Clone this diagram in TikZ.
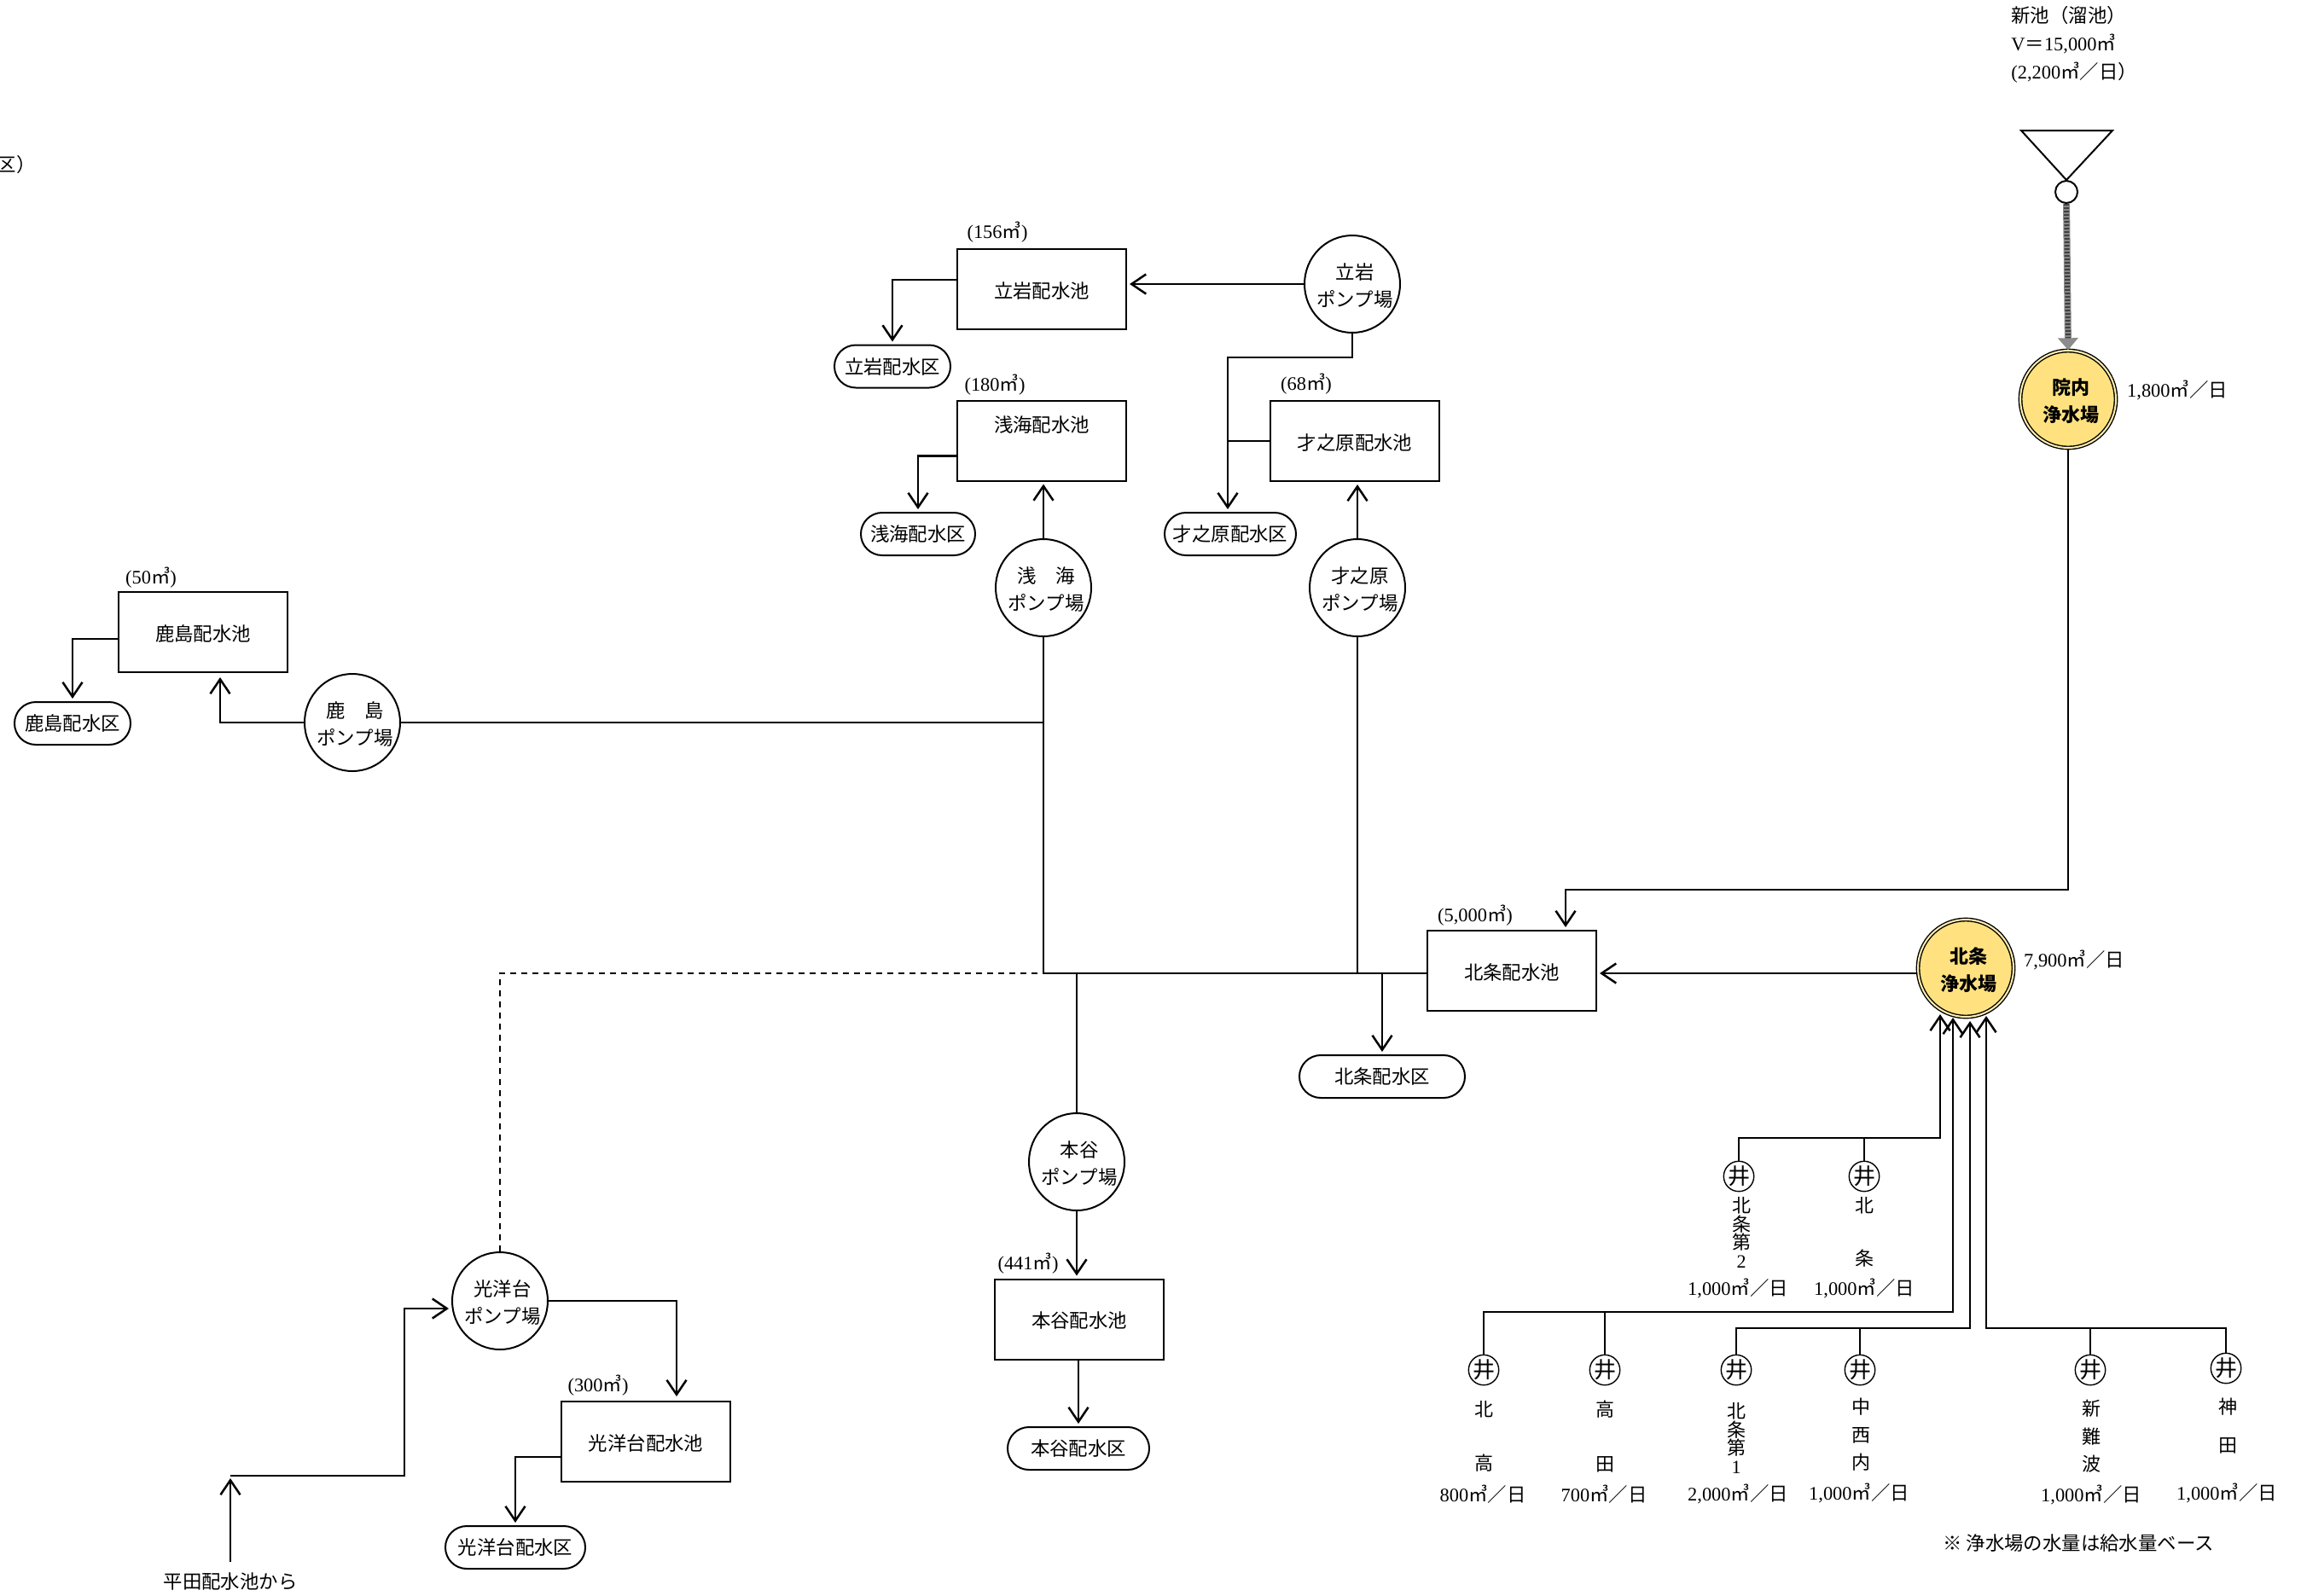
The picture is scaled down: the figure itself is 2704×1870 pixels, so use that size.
\documentclass[tikz,border=0pt]{standalone}
\usepackage{fontspec}
\setmainfont{Noto Sans CJK JP}
\newfontfamily\numfont{Liberation Serif}
\usetikzlibrary{arrows.meta,shapes.geometric,shapes.misc}
\definecolor{plantyellow}{HTML}{FFE27F}
\newcommand{\zw}[1]{\makebox[0pt]{\hspace{3pt}\smash{\raisebox{-5pt}{#1}}}}
\newcommand{\vol}[1]{{\numfont(#1}㎥{\numfont)}}
\newcommand{\rate}[1]{{\numfont #1}㎥／日}
\lineskiplimit-20pt

\begin{document}
\begin{tikzpicture}[x=0.5pt, y=-0.5pt,
  font=\fontsize{11.2}{16}\selectfont,
  pipe/.style={line width=1pt},
  flow/.style={line width=1.25pt, shorten >=1.5pt, -{Straight Barb[length=8.5pt,width=11.5pt,line width=1.25pt]}},
  pool/.style={draw, line width=1pt, rectangle, minimum width=99pt, minimum height=47pt, inner sep=0pt, text height=11.5pt, text depth=1.5pt},
  district/.style={draw, line width=1pt, rounded rectangle, minimum width=#1, minimum height=25pt, inner sep=0pt},
  pump/.style={draw, line width=1pt, ellipse, minimum width=56pt, minimum height=57pt, inner sep=0pt, align=center},
  plant/.style={draw, line width=0.7pt, double=plantyellow!60, double distance=1pt, fill=plantyellow, ellipse, minimum width=56pt, minimum height=57pt, inner sep=0pt, align=center, font=\fontsize{11}{16}\selectfont\bfseries},
  well/.style={draw, line width=0.7pt, circle, minimum size=16pt, inner sep=0pt, font=\fontsize{13}{13}\selectfont},
  note/.style={inner sep=0pt},
  wellname/.style={inner sep=0pt, align=center, font=\fontsize{11}{#1}\selectfont}]
\useasboundingbox (0,0) rectangle (2704,1870);

% pond and Innai
\draw[line width=1pt] (2369,153) -- (2476,153) -- (2422,211) -- cycle;
\node (pondValve)[draw, line width=1pt, circle, minimum size=13pt, inner sep=0pt] at (2422,225) {};
\node (pondName)[note, anchor=west] at (2357,18) {新池（溜池）};
\node (pondVol)[note, anchor=west] at (2357,51) {{\numfont V}＝{\numfont 15,000}㎥};
\node (pondRate)[note, anchor=west] at (2357,85) {{\numfont (2,200}㎥／日）};
\node (innaiPlant)[plant] at (2424,468) {\zw{院内}\\\zw{浄水場}};
\node (innaiRate)[note] at (2552,457) {\rate{1,800}};
\node (hojoPlant)[plant] at (2304,1135) {\zw{北条}\\\zw{浄水場}};
\node (hojoRate)[note] at (2431,1125) {\rate{7,900}};
\draw[line width=4pt, black!45, -{Triangle[length=7pt,width=11.5pt]}] (pondValve.south) -- (innaiPlant.north);
\draw[line width=3pt, black!75, dash pattern=on 1pt off 1pt, shorten >=7pt] (pondValve.south) -- (innaiPlant.north);

\node (cutLabel)[note, anchor=east] at (42,193) {区）};

% pools
\node (kashimaPool)[pool] at (238,741) {鹿島配水池};
\node (tatsuPool)[pool] at (1221,339) {立岩配水池};
\node (asamiPool)[pool] at (1221,516.5) {\smash{\raisebox{10.25pt}{浅海配水池}}};
\node (saiharaPool)[pool] at (1588,517) {才之原配水池};
\node (hojoPool)[pool] at (1772,1138) {北条配水池};
\node (honyaPool)[pool] at (1265,1546.5) {本谷配水池};
\node (koyoPool)[pool] at (757,1690) {光洋台配水池};
\node (kashimaVol)[note] at (177,677) {\vol{50}};
\node (tatsuVol)[note] at (1169,272) {\vol{156}};
\node (asamiVol)[note] at (1166,451) {\vol{180}};
\node (saiharaVol)[note] at (1531,450) {\vol{68}};
\node (hojoVol)[note] at (1729,1073) {\vol{5,000}};
\node (honyaVol)[note] at (1205,1481) {\vol{441}};
\node (koyoVol)[note] at (701,1624) {\vol{300}};

% districts
\node (kashimaArea)[district=68pt] at (85,848) {鹿島配水区};
\node (tatsuArea)[district=68pt] at (1046,429.5) {立岩配水区};
\node (asamiArea)[district=67pt] at (1076,626) {浅海配水区};
\node (saiharaArea)[district=77pt] at (1442,626) {才之原配水区};
\node (hojoArea)[district=97pt] at (1620,1262) {北条配水区};
\node (honyaArea)[district=83pt] at (1264,1698) {本谷配水区};
\node (koyoArea)[district=82pt] at (604,1814) {光洋台配水区};

% pumps
\node (kashimaPump)[pump] at (413,847) {\zw{鹿　島}\\\zw{ポンプ場}};
\node (tatsuPump)[pump] at (1585,333) {\zw{立岩}\\\zw{ポンプ場}};
\node (asamiPump)[pump] at (1223,689) {\zw{浅　海}\\\zw{ポンプ場}};
\node (saiharaPump)[pump] at (1591,689) {\zw{才之原}\\\zw{ポンプ場}};
\node (honyaPump)[pump] at (1262,1362) {\zw{本谷}\\\zw{ポンプ場}};
\node (koyoPump)[pump] at (586,1525) {\zw{光洋台}\\\zw{ポンプ場}};
\node (hiradaLabel)[note] at (270,1854) {平田配水池から};

% helper points
\coordinate (mainJct) at (1223,1141);
\coordinate (hojoBend) at (1835,1043);
\coordinate (saiharaBend) at (1439,419);
\coordinate (kashimaTip) at (258,791);
\coordinate (koyoTip) at (793,1640);
\coordinate (koyoBend) at (474,1730);
\coordinate (hiradaEnd) at (270,1730);

% connectors
\draw[flow] (innaiPlant.south) |- (hojoBend) -- (hojoBend |- hojoPool.north);
\draw[flow] (hojoPlant.west |- mainJct) -- (hojoPool.east |- mainJct);
\draw[pipe] (hojoPool.west |- mainJct) -- (mainJct);
\draw[pipe] (asamiPump.south) -- (mainJct);
\draw[pipe] (saiharaPump.south) -- (saiharaPump.south |- mainJct);
\draw[pipe] (kashimaPump.east) -- (kashimaPump.east -| mainJct);
\draw[pipe] (honyaPump.north) -- (honyaPump.north |- mainJct);
\draw[flow] (hojoArea.north |- mainJct) -- (hojoArea.north);
\draw[pipe, dash pattern=on 3.5pt off 3pt] (koyoPump.north) |- (mainJct);
\draw[flow] (kashimaPump.west) -| (kashimaTip);
\draw[flow] ([yshift=-4pt]kashimaPool.west) -| (kashimaArea.north);
\draw[flow] (tatsuPump.west) -- (tatsuPump.west -| tatsuPool.east);
\draw[flow] ([yshift=5.5pt]tatsuPool.west) -| (tatsuArea.north);
\draw[flow] (asamiPump.north) -- (asamiPump.north |- asamiPool.south);
\draw[flow] ([yshift=-9pt]asamiPool.west) -| (asamiArea.north);
\draw[flow] (tatsuPump.south) |- (saiharaBend) -- (saiharaBend |- saiharaArea.north);
\draw[pipe] (saiharaPool.west) -- (saiharaPool.west -| saiharaBend);
\draw[flow] (saiharaPump.north) -- (saiharaPump.north |- saiharaPool.south);
\draw[flow] (honyaPump.south) -- (honyaPump.south |- honyaPool.north);
\draw[flow] (honyaPool.south -| honyaArea.north) -- (honyaArea.north);
\draw[flow] (koyoPump.east) -| (koyoTip);
\draw[flow] ([yshift=-9pt]koyoPool.west) -| (koyoArea.north);
\draw[flow] (koyoBend -| hiradaEnd) -- (koyoBend) |- ([yshift=-4.5pt]koyoPump.west);
\draw[flow] ([yshift=6pt]hiradaLabel.north) -- (hiradaLabel.north |- hiradaEnd);

% wells
\node (wellA)[well] at (2038,1379) {井};
\node (wellB)[well] at (2185,1379) {井};
\node (wellC)[well] at (1739,1606) {井};
\node (wellD)[well] at (1881,1606) {井};
\node (wellE)[well] at (2035,1606) {井};
\node (wellF)[well] at (2180,1606) {井};
\node (wellG)[well] at (2450,1606) {井};
\node (wellH)[well] at (2609,1604) {井};

\node (wellAName)[wellname=10.7pt] at (2041,1445) {北\\条\\第\\{\numfont 2}};
\node (wellBName)[wellname=31pt] at (2185,1444) {北\\条};
\node (wellCName)[wellname=31.7pt] at (1739,1684) {北\\高};
\node (wellDName)[wellname=31.7pt] at (1881,1684) {高\\田};
\node (wellEName)[wellname=10.8pt] at (2035,1686) {北\\条\\第\\{\numfont 1}};
\node (wellFName)[wellname=16.3pt] at (2181,1682) {中\\西\\内};
\node (wellGName)[wellname=16.3pt] at (2451,1684) {新\\難\\波};
\node (wellHName)[wellname=22.5pt] at (2611,1672) {神\\田};

\node (wellARate)[note] at (2037,1510) {\rate{1,000}};
\node (wellBRate)[note] at (2185,1510) {\rate{1,000}};
\node (wellCRate)[note] at (1738,1752) {\rate{800}};
\node (wellDRate)[note] at (1880,1752) {\rate{700}};
\node (wellERate)[note] at (2037,1751) {\rate{2,000}};
\node (wellFRate)[note] at (2179,1750) {\rate{1,000}};
\node (wellGRate)[note] at (2451,1752) {\rate{1,000}};
\node (wellHRate)[note] at (2610,1750) {\rate{1,000}};

\coordinate (busA) at (2274,1334);
\coordinate (tipA) at (2274,1186);
\coordinate (busB) at (2289,1538);
\coordinate (tipB) at (2289,1190);
\coordinate (busC) at (2309,1557);
\coordinate (tipC) at (2309,1194);
\coordinate (busD) at (2328,1557);
\coordinate (tipD) at (2328,1188);
\draw[flow] (wellA.north) |- (busA) -- (tipA);
\draw[pipe] (wellB.north) -- (wellB.north |- busA);
\draw[flow] (wellC.north) |- (busB) -- (tipB);
\draw[pipe] (wellD.north) -- (wellD.north |- busB);
\draw[flow] (wellE.north) |- (busC) -- (tipC);
\draw[pipe] (wellF.north) -- (wellF.north |- busC);
\draw[flow] (wellH.north) |- (busD) -- (tipD);
\draw[pipe] (wellG.north) -- (wellG.north |- busD);

\node (baseNote)[note] at (2436,1809) {※ 浄水場の水量は給水量ベース};
\end{tikzpicture}
\end{document}
